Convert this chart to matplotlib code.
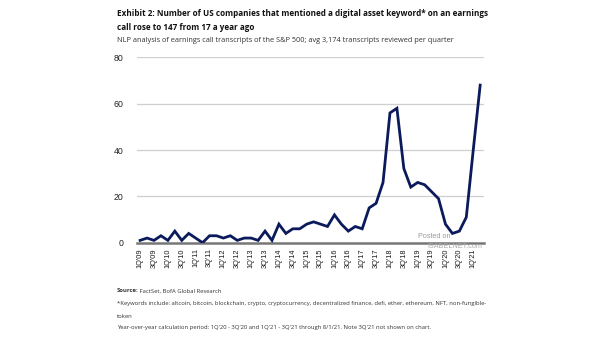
import matplotlib
matplotlib.use("Agg")
import matplotlib.pyplot as plt
import numpy as np

# quarterly counts, 1Q09 .. 2Q21
quarters = [f"{q}Q'{y:02d}" for y in range(9, 22) for q in range(1, 5)][:50]
counts = [1, 2, 1, 3, 1, 5, 1, 4, 2, 0,
          3, 3, 2, 3, 1, 2, 2, 1, 5, 1,
          8, 4, 6, 6, 8, 9, 8, 7, 12, 8,
          5, 7, 6, 15, 17, 26, 56, 58, 32, 24,
          26, 25, 22, 19, 8, 4, 5, 11, 40, 68]
yticks = [0, 20, 40, 60, 80]

W, H = 605, 341
fig = plt.figure(figsize=(W / 100, H / 100), dpi=100)
fig.patch.set_facecolor("white")


def px(x, y):
    return x / W, 1 - y / H


ax = fig.add_axes([137 / W, 1 - 242.7 / H, (484 - 137) / W, (242.7 - 57.3) / H])
x = np.arange(len(counts))
ax.plot(x, counts, color="#0b1a5a", lw=2.0, solid_joinstyle="miter", zorder=3)

ax.set_xlim(-0.45, 49.55)
ax.set_ylim(0, 80)
ax.set_yticks(yticks)
ax.set_yticklabels([str(v) for v in yticks], fontsize=6.3, family="Liberation Sans", color="#222222")
ax.set_xticks(x[::2])
ax.set_xticklabels(quarters[::2], rotation=90, fontsize=5.3, family="Liberation Sans", color="#1a1a1a")
ax.tick_params(length=0, pad=4)
ax.tick_params(axis="y", pad=10)
for v in yticks[1:]:
    ax.axhline(v, color="#cfcfcf", lw=0.9, zorder=1)
for s in ["top", "right", "left"]:
    ax.spines[s].set_visible(False)
ax.spines["bottom"].set_color("#777777")
ax.spines["bottom"].set_linewidth(1.8)

# header
fig.text(*px(117, 13), "Exhibit 2: Number of US companies that mentioned a digital asset keyword* on an earnings",
         fontsize=5.85, fontweight="bold", family="Open Sans", va="center", color="#111111")
fig.text(*px(117, 28), "call rose to 147 from 17 a year ago",
         fontsize=5.85, fontweight="bold", family="Open Sans", va="center", color="#111111")
fig.text(*px(117, 41), "NLP analysis of earnings call transcripts of the S&P 500; avg 3,174 transcripts reviewed per quarter",
         fontsize=5.3, family="Open Sans", va="center", color="#333333")

# footer
foot = dict(fontsize=4.2, family="Open Sans", va="center", color="#333333")
src = fig.text(*px(117, 291), "Source:", fontweight="bold", **foot)
fig.canvas.draw()
bb = src.get_window_extent(renderer=fig.canvas.get_renderer())
fig.text(bb.x1 / W - 0.5 / W, 1 - 291 / H, " FactSet, BofA Global Research", **foot)
fig.text(*px(117, 304), "*Keywords include: altcoin, bitcoin, blockchain, crypto, cryptocurrency, decentralized finance, defi, ether, ethereum, NFT, non-fungible-",
         **foot)
fig.text(*px(117, 316), "token", **foot)
fig.text(*px(117, 328), "Year-over-year calculation period: 1Q'20 - 3Q'20 and 1Q'21 - 3Q'21 through 8/1/21. Note 3Q'21 not shown on chart.",
         **foot)

# site watermark
fig.text(*px(418, 236), "Posted on", fontsize=5.2, family="Liberation Sans", va="center", color="#9a9a9a")
fig.text(*px(427, 247), "ISABELNET.com", fontsize=5.2, family="Liberation Sans", va="center", color="#a8a8a8")

fig.savefig("out.png", dpi=100)
